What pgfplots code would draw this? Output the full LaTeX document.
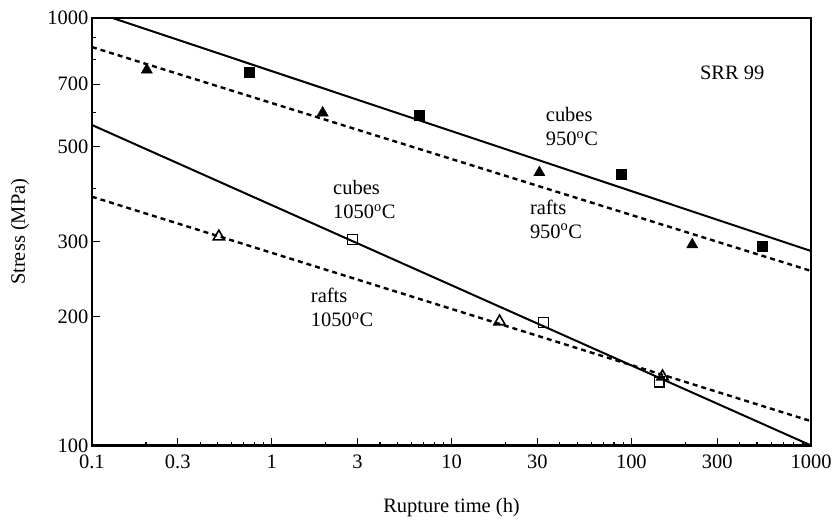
\documentclass[border=0pt]{standalone}
\usepackage{fontspec}
\setmainfont{Liberation Serif}
\usepackage{pgfplots}
\pgfplotsset{compat=1.18}

\begin{document}
\begin{tikzpicture}
\begin{axis}[
  xmode=log, ymode=log,
  scale only axis,
  width=720pt, height=428pt,
  xmin=0.1, xmax=1000, ymin=100, ymax=1000,
  xtick={0.1,0.3,1,3,10,30,100,300,1000},
  xticklabels={0.1,0.3,1,3,10,30,100,300,1000},
  minor xtick={0.2,0.4,0.5,0.6,0.7,0.8,0.9,2,4,5,6,7,8,9,20,40,50,60,70,80,90,200,400,500,600,700,800,900},
  ytick={100,200,300,500,700,1000},
  yticklabels={100,200,300,500,700,1000},
  minor ytick={400,600,800,900},
  tick align=inside,
  xtick pos=bottom, ytick pos=left,
  major tick length=8pt, minor tick length=4pt,
  every tick/.style={black, line width=1.2pt},
  axis line style={line width=2.4pt},
  font=\fontsize{20.5}{24}\selectfont,
  xticklabel style={yshift=-6pt},
  xlabel={Rupture time (h)},
  ylabel={Stress (MPa)},
  xlabel style={at={(axis description cs:0.5,-0.145)}, anchor=center},
  ylabel style={at={(axis description cs:-0.1,0.5)}, anchor=center},
  clip=true,
]
% cubes 950 C
\addplot[black, line width=2pt] coordinates {(0.13,1000) (1000,285)};
\addplot[only marks, mark=square*, mark size=5pt, black] coordinates {
  (0.745,748) (6.63,593) (88,430) (534,292)};
% rafts 950 C
\addplot[black, line width=2.4pt, dash pattern=on 5pt off 4pt] coordinates {(0.1,855) (1000,256)};
\addplot[only marks, mark=triangle*, mark size=6.5pt, black] coordinates {
  (0.202,756) (1.92,600) (30.8,435) (218,295)};
% cubes 1050 C
\addplot[black, line width=2pt] coordinates {(0.1,562) (1000,100)};
\addplot[only marks, mark=square, mark size=5pt, black, line width=1.6pt] coordinates {
  (2.82,303) (32.4,194) (143,141)};
% rafts 1050 C
\addplot[black, line width=2.4pt, dash pattern=on 5pt off 4pt] coordinates {(0.1,382) (1000,114)};
\addplot[only marks, mark=triangle, mark size=6.5pt, black, line width=1.6pt] coordinates {
  (0.508,308) (18.5,195) (149,145)};

\node[font=\fontsize{20.5}{24}\selectfont] at (axis cs:364,743) {SRR 99};
\node[anchor=west, align=left, font=\fontsize{20.5}{24}\selectfont] at (axis cs:32,556) {cubes\\950\textsuperscript{o}C};
\node[anchor=west, align=left, font=\fontsize{20.5}{24}\selectfont] at (axis cs:26.1,338) {rafts\\950\textsuperscript{o}C};
\node[anchor=west, align=left, font=\fontsize{20.5}{24}\selectfont] at (axis cs:2.1,376) {cubes\\1050\textsuperscript{o}C};
\node[anchor=west, align=left, font=\fontsize{20.5}{24}\selectfont] at (axis cs:1.58,210) {rafts\\1050\textsuperscript{o}C};
\end{axis}
\path (current axis.south west) ++(-92pt,-75pt) coordinate (bbsw);
\path (current axis.north east) ++(23pt,18pt) coordinate (bbne);
\useasboundingbox (bbsw) rectangle (bbne);
\end{tikzpicture}
\end{document}
